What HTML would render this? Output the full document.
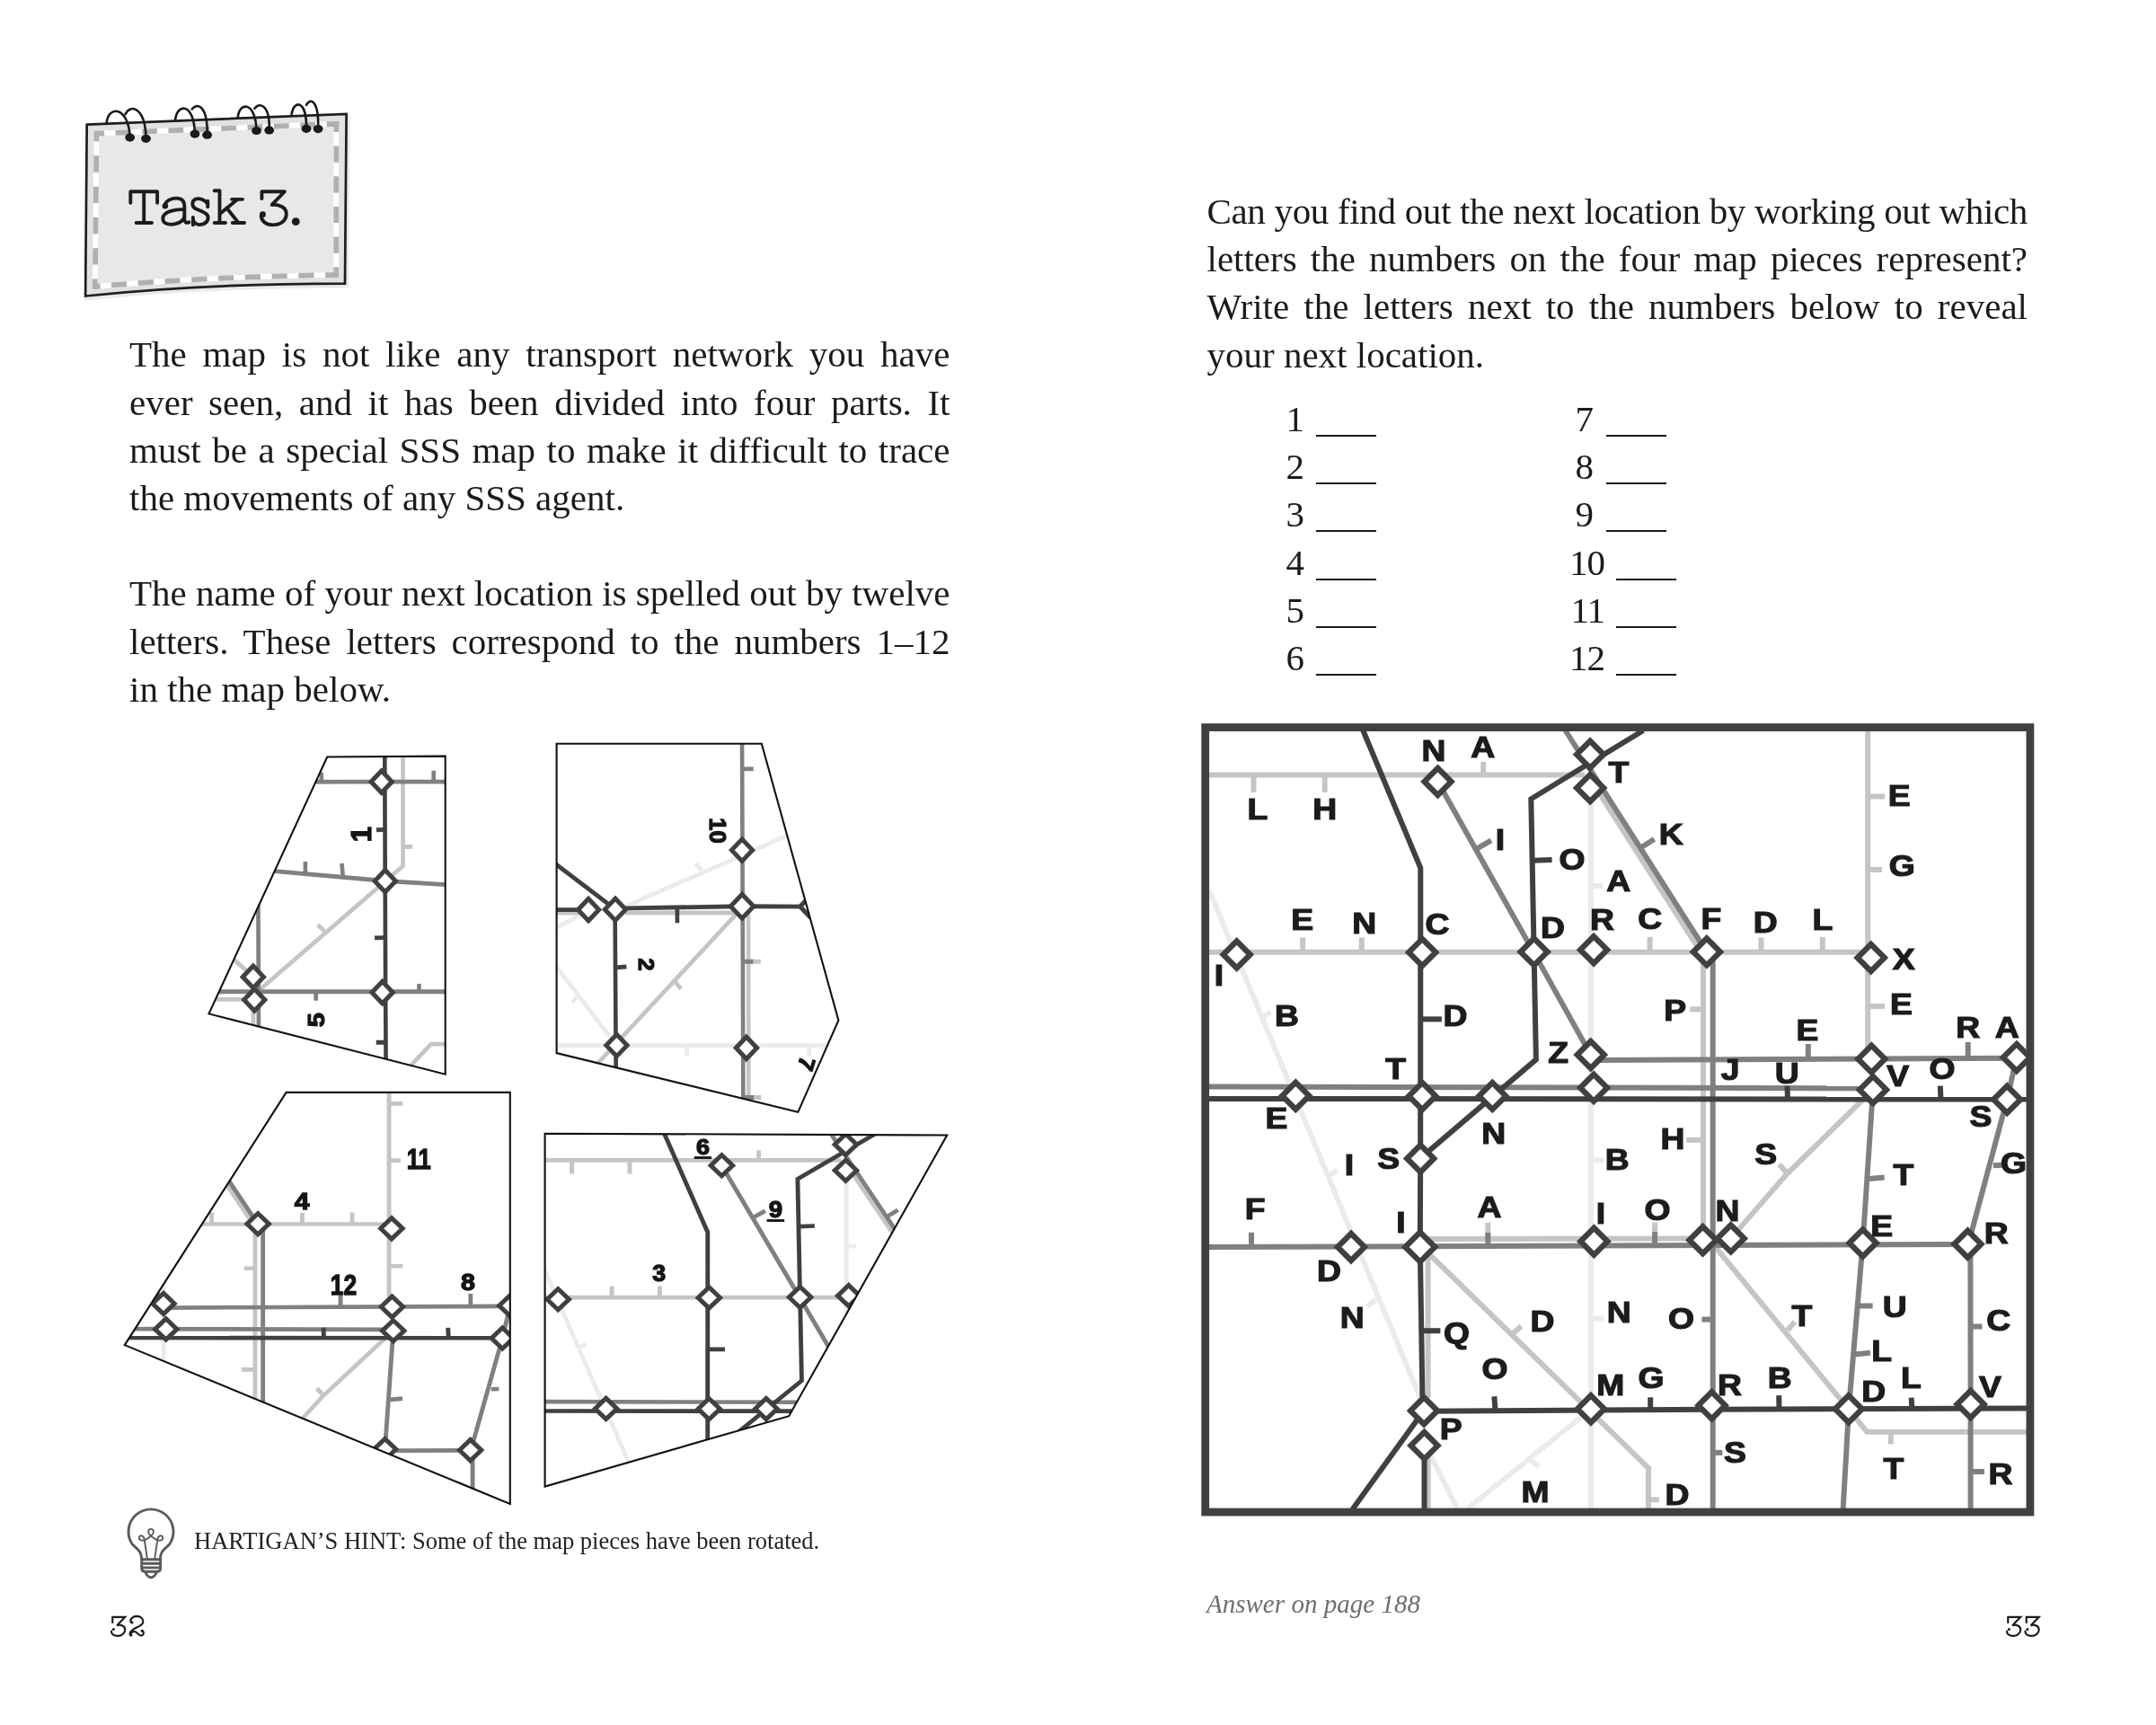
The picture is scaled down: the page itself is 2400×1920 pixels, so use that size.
<!DOCTYPE html>
<html><head><meta charset="utf-8"><title>Task 3</title>
<style>
html,body{margin:0;padding:0;background:#fff}
body{width:2400px;height:1920px;position:relative;overflow:hidden;filter:grayscale(1)}
svg{position:absolute;left:0;top:0;opacity:.999}
.t{position:absolute;opacity:.999;font-family:'Liberation Serif',serif;font-size:41px;line-height:1;color:#1b1b1b;white-space:nowrap}
.u{position:absolute;width:66.5px;height:2.1px;background:#1b1b1b}
</style></head><body>
<svg width="2400" height="1920" viewBox="0 0 2400 1920">
<defs>
<g id="mapl" fill="none" stroke-width="6.0" stroke-linecap="butt" stroke-linejoin="miter">
<g stroke="#ebebeb">
<polyline points="1346.2,991.5 1581.5,1557"/>
<polyline points="1590,1615 1622,1679"/>
<polyline points="1771,880 1771,1679"/>
<polyline points="1761.4,1576 1633.8,1679"/>
<line x1="1771" y1="985.8" x2="1784.5" y2="986.3"/>
<line x1="1771" y1="1291.6" x2="1785" y2="1291.6"/>
<line x1="1771" y1="1467.5" x2="1785" y2="1467.5"/>
<line x1="1704.2" y1="1625.5" x2="1712.6" y2="1632.2"/>
<line x1="1405" y1="1132.7" x2="1414.7" y2="1126.5"/>
<line x1="1479" y1="1309" x2="1488.9" y2="1302.2"/>
<line x1="1531.5" y1="1446.5" x2="1521.8" y2="1454.4"/>
</g>
<g stroke="#c5c5c5">
<polyline points="1346,862.4 1764,862.4"/>
<polyline points="1346,1059.7 2075,1059.7"/>
<polyline points="2079.2,813 2079.2,1178.7"/>
<polyline points="1779.7,882 1889.2,1053.2 1896,1062"/>
<polyline points="1896,1062 1896,1380"/>
<polyline points="1588,1378.9 1895.5,1378.5"/>
<polyline points="1589.6,1398 1589.6,1556"/>
<polyline points="1589.6,1620 1589.6,1679"/>
<polyline points="1586,1391 1835,1634 1835,1679"/>
<polyline points="1926.7,1378.4 1989.2,1306.6 2084.9,1213.1"/>
<polyline points="1905,1382.5 2078.4,1593.8 2256,1593.8"/>
<line x1="1395.5" y1="862.4" x2="1395.5" y2="882"/>
<line x1="1474.7" y1="862.4" x2="1474.7" y2="882"/>
<line x1="1651.2" y1="862.4" x2="1651.2" y2="848"/>
<line x1="1450.2" y1="1059.7" x2="1450.2" y2="1043.5"/>
<line x1="1515.8" y1="1059.7" x2="1515.8" y2="1043.5"/>
<line x1="1836.6" y1="1059.7" x2="1836.6" y2="1043"/>
<line x1="1960.5" y1="1059.7" x2="1960.5" y2="1043.5"/>
<line x1="2028.8" y1="1059.7" x2="2028.8" y2="1043"/>
<line x1="2079.2" y1="886.5" x2="2098" y2="886.5"/>
<line x1="2079.2" y1="968.1" x2="2095" y2="968.1"/>
<line x1="2079.2" y1="1120.1" x2="2098" y2="1120.1"/>
<line x1="1896" y1="1123.3" x2="1881.3" y2="1123.3"/>
<line x1="1896" y1="1268.9" x2="1877.3" y2="1268.9"/>
<line x1="1656.3" y1="1378.7" x2="1656.3" y2="1361"/>
<line x1="1842.1" y1="1378.7" x2="1842.1" y2="1360.6"/>
<line x1="1835" y1="1669.2" x2="1846.9" y2="1669.2"/>
<line x1="1683.8" y1="1484.5" x2="1693.5" y2="1475.9"/>
<line x1="1989.4" y1="1305.7" x2="1980.4" y2="1296"/>
<line x1="1989.8" y1="1480.7" x2="1998" y2="1471.1"/>
<line x1="2104.8" y1="1593.8" x2="2104.8" y2="1607.4"/>
</g>
<g stroke="#808080">
<polyline points="1600.5,870 1707.2,1059.9 1770.7,1174"/>
<polyline points="1742.5,813 1900,1059.9"/>
<polyline points="1906.7,1062 1906.7,1679"/>
<polyline points="1772,1180 2244.8,1177.8"/>
<polyline points="1346,1209.6 2084.9,1211.3"/>
<polyline points="1346,1388 1907,1386.1 2190.4,1385"/>
<polyline points="2084.9,1213.1 2073.6,1383.5 2058,1568 2051.7,1679"/>
<polyline points="2244.8,1177.1 2234.2,1223.8 2194.5,1372 2193.4,1395 2193.6,1563 2193.6,1679"/>
<line x1="1644" y1="944.7" x2="1660" y2="935.3"/>
<line x1="1827.7" y1="942.8" x2="1841.5" y2="933.9"/>
<line x1="1906.7" y1="1468.6" x2="1894.4" y2="1468.6"/>
<line x1="1906.7" y1="1616.9" x2="1917.4" y2="1616.9"/>
<line x1="2012.8" y1="1179" x2="2012.8" y2="1162"/>
<line x1="2190.7" y1="1178" x2="2190.7" y2="1160"/>
<line x1="1393" y1="1388" x2="1393" y2="1371.7"/>
<line x1="1656.3" y1="1387" x2="1656.3" y2="1372"/>
<line x1="1842.1" y1="1386.5" x2="1842.1" y2="1371"/>
<line x1="2080.9" y1="1312.1" x2="2097.6" y2="1310.5"/>
<line x1="2068.8" y1="1453.4" x2="2084.6" y2="1453.4"/>
<line x1="2064.7" y1="1507.4" x2="2081.9" y2="1505.8"/>
<line x1="2218.8" y1="1297.2" x2="2229.4" y2="1296.8"/>
<line x1="2192.2" y1="1476.6" x2="2206.4" y2="1476.6"/>
<line x1="2193.6" y1="1637.9" x2="2209" y2="1637.9"/>
</g>
<g stroke="#404040">
<polyline points="1517.3,813 1581.3,966 1581.2,1289 1580.8,1388 1583.4,1553 1585.1,1570.3"/>
<polyline points="1829.3,813 1704.3,889.3 1707.6,1059.4 1709.9,1179.3 1581.2,1289.1"/>
<polyline points="1346,1223 2256,1223.5"/>
<polyline points="1585,1570.7 1905.5,1568.7 2256,1567.5"/>
<polyline points="1585,1570 1505.5,1680"/>
<polyline points="1585.5,1608.9 1585.5,1680"/>
<line x1="1581.2" y1="1134.4" x2="1604.9" y2="1134.4"/>
<line x1="1584" y1="1481.2" x2="1603.4" y2="1481.2"/>
<line x1="1706.8" y1="957.7" x2="1727.6" y2="956.9"/>
<line x1="1989.9" y1="1223" x2="1989.5" y2="1208.7"/>
<line x1="2160.5" y1="1223.4" x2="2159.8" y2="1208.7"/>
<line x1="1664.5" y1="1570" x2="1663.4" y2="1554.2"/>
<line x1="1837.2" y1="1569" x2="1837.2" y2="1555.3"/>
<line x1="1980.5" y1="1568.4" x2="1980.2" y2="1553.1"/>
<line x1="2128.3" y1="1568" x2="2127.7" y2="1555.6"/>
</g>
<g stroke="#404040" fill="#fff" stroke-linejoin="miter" stroke-width="6.3">
<path d="M1600.5,855 l15,15 l-15,15 l-15,-15 z"/>
<path d="M1770.1,824.8 l15,15 l-15,15 l-15,-15 z"/>
<path d="M1770.1,862.1 l15,15 l-15,15 l-15,-15 z"/>
<path d="M1376.7,1047.5 l15,15 l-15,15 l-15,-15 z"/>
<path d="M1583.2,1045.1 l15,15 l-15,15 l-15,-15 z"/>
<path d="M1707.6,1044.4 l15,15 l-15,15 l-15,-15 z"/>
<path d="M1774.1,1042.2 l15,15 l-15,15 l-15,-15 z"/>
<path d="M1899.9,1044.4 l15,15 l-15,15 l-15,-15 z"/>
<path d="M2082.7,1051 l15,15 l-15,15 l-15,-15 z"/>
<path d="M1770.7,1159 l15,15 l-15,15 l-15,-15 z"/>
<path d="M2083.3,1163.7 l15,15 l-15,15 l-15,-15 z"/>
<path d="M2244.8,1162.1 l15,15 l-15,15 l-15,-15 z"/>
<path d="M1442.3,1204.7 l15,15 l-15,15 l-15,-15 z"/>
<path d="M1583.2,1205.1 l15,15 l-15,15 l-15,-15 z"/>
<path d="M1661.3,1204.9 l15,15 l-15,15 l-15,-15 z"/>
<path d="M1774.1,1195.8 l15,15 l-15,15 l-15,-15 z"/>
<path d="M2084.9,1198.1 l15,15 l-15,15 l-15,-15 z"/>
<path d="M2234.2,1208.8 l15,15 l-15,15 l-15,-15 z"/>
<path d="M1581.2,1274.5 l15,15 l-15,15 l-15,-15 z"/>
<path d="M1504,1373 l15,15 l-15,15 l-15,-15 z"/>
<path d="M1580.8,1371.4 l16.5,16.5 l-16.5,16.5 l-16.5,-16.5 z"/>
<path d="M1774.4,1366.7 l15,15 l-15,15 l-15,-15 z"/>
<path d="M1895.5,1365.2 l15,15 l-15,15 l-15,-15 z"/>
<path d="M1926.7,1363.4 l15,15 l-15,15 l-15,-15 z"/>
<path d="M2073.6,1368.5 l15,15 l-15,15 l-15,-15 z"/>
<path d="M2190.4,1369.8 l15,15 l-15,15 l-15,-15 z"/>
<path d="M1585.1,1555.3 l15,15 l-15,15 l-15,-15 z"/>
<path d="M1585.5,1593.9 l15,15 l-15,15 l-15,-15 z"/>
<path d="M1770.9,1553.3 l15,15 l-15,15 l-15,-15 z"/>
<path d="M1905.5,1549.2 l15,15 l-15,15 l-15,-15 z"/>
<path d="M2057.8,1553.2 l15,15 l-15,15 l-15,-15 z"/>
<path d="M2193.6,1548 l15,15 l-15,15 l-15,-15 z"/>
</g>
</g>
</defs>
<!-- notepad -->
<path d="M96.7,138.7 L385.6,126.8 L384,315.6 Q225,315.6 95.1,329.5 Z" fill="#e0e0e0" stroke="#dcdcdc" stroke-width="5" transform="translate(1.6,2.4)" opacity=".6"/>
<path d="M96.7,138.7 L385.6,126.8 L384,315.6 Q225,315.6 95.1,329.5 Z" fill="#e2e2e2" stroke="#1e1e1e" stroke-width="2.7" stroke-linejoin="miter"/>
<path d="M107.5,148.7 L374.4,137.8 L374.2,306.1 Q232,307.8 105.8,319 Z" fill="#e8e8e8" stroke="#fff" stroke-width="5.8" stroke-linejoin="miter"/>
<g fill="none" stroke="#b0b0b0" stroke-width="5.8">
<path d="M107.5,148.7 L374.4,137.8" stroke-dasharray="16.8 12.6" stroke-dashoffset="8.2"/>
<path d="M107.5,148.7 L105.8,319" stroke-dasharray="18.4 15.9" stroke-dashoffset="9.7"/>
<path d="M374.4,137.8 L374.2,306.1" stroke-dasharray="18.2 15.5" stroke-dashoffset="9"/>
<path d="M105.8,319 Q232,307.8 374.2,306.1" stroke-dasharray="17.1 12.7" stroke-dashoffset="11.3"/>
</g>
<g fill="#b0b0b0">
<rect x="104.6" y="145.8" width="5.8" height="5.8"/>
<rect x="371.5" y="134.9" width="5.8" height="5.8"/>
<rect x="371.3" y="303.2" width="5.8" height="5.8"/>
<rect x="102.9" y="316.1" width="5.8" height="5.8"/>
</g>
<g fill="none" stroke="#1a1a1a" stroke-width="2.6" stroke-linecap="round">
<path d="M118.6,137.3 C120.2,116.8 143.1,117.6 144.7,153.1"/>
<path d="M139.6,127.1 C144.7,115.2 162,119.2 162.5,154.3"/>
<path d="M195.1,133.4 C197.5,113.7 216.4,115.2 216.9,149.1"/>
<path d="M213.7,121.5 C219.6,113.7 231.4,117.6 230.6,150.2"/>
<path d="M264.8,130.2 C266.9,112.1 285,113.7 285.5,145.5"/>
<path d="M283.4,120.8 C289,112.9 300.8,116.8 299.7,144.9"/>
<path d="M324.4,128.6 C326.8,109.7 341.8,111.3 341,143.3"/>
<path d="M341,116.8 C346.5,107.3 355.2,113.7 354.1,143.6"/>
</g><g fill="#1a1a1a">
<ellipse cx="144.7" cy="153.1" rx="5.4" ry="4.6"/>
<ellipse cx="162.5" cy="154.3" rx="5.4" ry="4.6"/>
<ellipse cx="216.9" cy="149.1" rx="5.4" ry="4.6"/>
<ellipse cx="230.6" cy="150.2" rx="5.4" ry="4.6"/>
<ellipse cx="285.5" cy="145.5" rx="5.4" ry="4.6"/>
<ellipse cx="299.7" cy="144.9" rx="5.4" ry="4.6"/>
<ellipse cx="341" cy="143.3" rx="5.4" ry="4.6"/>
<ellipse cx="354.1" cy="143.6" rx="5.4" ry="4.6"/>
</g>
<g transform="translate(130,190) scale(0.102041)" fill="none" stroke="#1c1c1c" stroke-width="38" stroke-linecap="round" stroke-linejoin="round">
<path d="M150,350 V228 H442 V350"/>
<path d="M296,228 V568"/>
<path d="M212,568 H382"/>
<path d="M522,378 C540,320 600,300 650,300 C710,300 738,335 738,390 V525 C738,562 758,574 788,562"/>
<path d="M738,425 C690,420 640,425 590,440 C520,460 495,500 505,540 C515,580 580,595 640,580 C700,565 735,530 738,500"/>
<path d="M992,395 V330"/>
<path d="M992,360 C960,315 900,295 860,310 C815,328 815,390 860,415 C900,435 950,445 985,480 C1010,515 990,570 935,585 C885,598 848,575 832,540"/>
<path d="M832,590 V508"/>
<path d="M1065,218 H1122 V568"/>
<path d="M1065,568 H1185"/>
<path d="M1125,470 L1318,312"/>
<path d="M1255,312 H1372"/>
<path d="M1200,408 L1328,568"/>
<path d="M1262,568 H1392"/>
<path d="M1582,305 V228 H1832 L1692,372 C1770,365 1850,400 1850,470 C1850,550 1780,592 1700,592 C1630,592 1575,550 1575,490"/>
</g>
<g transform="translate(130,190) scale(0.102041)" fill="#1c1c1c"><circle cx="1953" cy="555" r="43"/><circle cx="1592" cy="478" r="34"/><circle cx="528" cy="385" r="32"/></g>
<g transform="translate(110,1790) scale(0.03247)" fill="none" stroke="#1a1a1a" stroke-width="66" stroke-linecap="round" stroke-linejoin="miter">
<path transform="translate(0,0)" d="M470,490 V302 H900 L622,592 C760,540 905,620 900,745 C895,870 770,950 645,950 C520,950 415,880 432,790"/>
<path transform="translate(0,0)" d="M1092,470 C1060,360 1180,272 1300,272 C1440,272 1522,360 1520,460 C1518,600 1300,640 1160,740 C1060,810 1040,880 1085,935 M1085,900 C1120,800 1230,775 1290,830 C1350,880 1400,950 1462,940 C1545,920 1560,830 1500,775"/>
</g><g transform="translate(110,1790) scale(0.03247)" fill="#1a1a1a">
<circle cx="505" cy="725" r="48"/>
<circle cx="1135" cy="490" r="50"/>
<circle cx="1110" cy="925" r="42"/>
<circle cx="1480" cy="775" r="45"/>
</g>
<g transform="translate(2220,1790) scale(0.03247)" fill="none" stroke="#1a1a1a" stroke-width="66" stroke-linecap="round" stroke-linejoin="miter">
<path transform="translate(0,0)" d="M470,490 V302 H900 L622,592 C760,540 905,620 900,745 C895,870 770,950 645,950 C520,950 415,880 432,790"/>
<path transform="translate(630,0)" d="M470,490 V302 H900 L622,592 C760,540 905,620 900,745 C895,870 770,950 645,950 C520,950 415,880 432,790"/>
</g><g transform="translate(2220,1790) scale(0.03247)" fill="#1a1a1a">
<circle cx="505" cy="725" r="48"/>
<circle cx="1135" cy="725" r="48"/>
</g>
<!-- pieces -->
<clipPath id="cp1"><polygon points="364.2,842.5 495.7,841.6 495.7,1195.7 232.5,1128.4"/></clipPath>
<g clip-path="url(#cp1)"><use href="#mapl" transform="matrix(0,-0.814,0.774,0,-785.04,2655.76)"/></g>
<polygon points="364.2,842.5 495.7,841.6 495.7,1195.7 232.5,1128.4" fill="none" stroke="#111" stroke-width="2.1" stroke-linejoin="miter"/>
<clipPath id="cp2"><polygon points="619.6,827.7 847.8,827.7 933.4,1135.6 888.3,1237.8 619.6,1172.1"/></clipPath>
<g clip-path="url(#cp2)"><use href="#mapl" transform="matrix(0,0.814,-0.774,0,1900.34,-277.99)"/></g>
<polygon points="619.6,827.7 847.8,827.7 933.4,1135.6 888.3,1237.8 619.6,1172.1" fill="none" stroke="#111" stroke-width="2.1" stroke-linejoin="miter"/>
<clipPath id="cp3"><polygon points="318.6,1215.9 567.8,1215.9 567.8,1673.9 138.8,1497.1"/></clipPath>
<g clip-path="url(#cp3)"><use href="#mapl" transform="matrix(0.814,0,0,0.774,-1259.37,542.27)"/></g>
<polygon points="318.6,1215.9 567.8,1215.9 567.8,1673.9 138.8,1497.1" fill="none" stroke="#111" stroke-width="2.1" stroke-linejoin="miter"/>
<clipPath id="cp4"><polygon points="606.6,1261.7 1054.2,1263.5 878.2,1576.2 606.6,1654.5"/></clipPath>
<g clip-path="url(#cp4)"><use href="#mapl" transform="matrix(0.814,0,0,0.774,-499.41,623.88)"/></g>
<polygon points="606.6,1261.7 1054.2,1263.5 878.2,1576.2 606.6,1654.5" fill="none" stroke="#111" stroke-width="2.1" stroke-linejoin="miter"/>
<g font-family="Liberation Sans, sans-serif" font-weight="bold" fill="#151515" stroke="#151515" stroke-width="1.3" text-anchor="middle">
<text font-size="31" transform="translate(402,928.7) rotate(-90) scale(1.0,1)" y="11.1">1</text>
<text font-size="25" transform="translate(351.6,1135.2) rotate(-90) scale(1.15,1)" y="8.9">5</text>
<text font-size="25.5" transform="translate(799.6,924.4) rotate(90) scale(1.0,1)" y="9.1">10</text>
<text font-size="24" transform="translate(719.7,1073.5) rotate(90) scale(1.05,1)" y="8.6">2</text>
<text font-size="25" transform="translate(898,1184) rotate(107) scale(1.05,1)" y="8.9">7</text>
<text font-size="32" transform="translate(466.3,1289.3) rotate(0) scale(0.8,1)" y="11.5">11</text>
<text font-size="26" transform="translate(336,1336.6) rotate(0) scale(1.15,1)" y="9.3">4</text>
<text font-size="31" transform="translate(382.5,1430.2) rotate(0) scale(0.85,1)" y="11.1">12</text>
<text font-size="26" transform="translate(520.9,1427) rotate(0) scale(1.1,1)" y="9.3">8</text>
<text font-size="24.5" transform="translate(782.4,1276.2) rotate(0) scale(1.1,1)" y="8.8">6</text>
<rect x="773.4" y="1287.8" width="18" height="1.5"/>
<text font-size="25" transform="translate(863.3,1346) rotate(0) scale(1.1,1)" y="8.9">9</text>
<rect x="854.2" y="1357.8" width="18.3" height="1.5"/>
<text font-size="25.5" transform="translate(733.7,1417.2) rotate(0) scale(1.05,1)" y="9.1">3</text>
</g>
<!-- bulb -->
<g fill="none" stroke="#5a5a5a" stroke-width="2.9" stroke-linecap="round" stroke-linejoin="round">
<path d="M157.7,1735.1 C157.7,1726.4 152.5,1724.1 147.2,1718.7 A25 25 0 1 1 188.8,1718.7 C183.5,1724.1 178.3,1726.4 178.3,1735.1"/>
<path d="M157.7,1735.7 L157.7,1745.5 Q157.7,1749.3 161.7,1749.3 L174.5,1749.3 Q178.6,1749.3 178.6,1745.5 L178.6,1735.7 Z"/>
<path d="M158.3,1740.3 L178,1740.3 M158.3,1744.9 L178,1744.9"/>
<path d="M162,1749.9 Q164.1,1755.4 168.1,1755.7 Q172.2,1755.4 174.2,1749.9"/>
</g><g fill="none" stroke="#5a5a5a" stroke-width="1.9" stroke-linecap="round">
<path d="M163.9,1734.8 L160.6,1712.8 C160,1709 155.4,1707.8 154.8,1711.6 C154.5,1715.4 160.6,1715.9 165.8,1711.3 C172.2,1707.2 172.2,1701.9 168,1701.9 C163.8,1701.9 163.8,1707.2 170.2,1711.3 C175.4,1715.9 181.5,1715.4 181.2,1711.6 C180.6,1707.8 176,1709 175.4,1712.8 L172.2,1734.8"/>
</g>
<!-- big map -->
<clipPath id="cmap"><rect x="1341.7" y="809.6" width="918.2" height="873.4"/></clipPath>
<g clip-path="url(#cmap)"><use href="#mapl"/></g>
<g font-family="Liberation Sans, sans-serif" font-weight="bold" font-size="33" fill="#1c1c1c" stroke="#1c1c1c" stroke-width="1.2" text-anchor="middle">
<text transform="translate(1596,846.9) scale(1.13,1)">N</text>
<text transform="translate(1650.7,842.9) scale(1.13,1)">A</text>
<text transform="translate(1802,870.8) scale(1.13,1)">T</text>
<text transform="translate(1400,912.3) scale(1.13,1)">L</text>
<text transform="translate(1474.7,912.3) scale(1.13,1)">H</text>
<text transform="translate(1670,945.6) scale(1.13,1)">I</text>
<text transform="translate(1860.2,939.8) scale(1.13,1)">K</text>
<text transform="translate(1750.1,968.2) scale(1.13,1)">O</text>
<text transform="translate(1801.7,991.8) scale(1.13,1)">A</text>
<text transform="translate(2114.1,897.1) scale(1.13,1)">E</text>
<text transform="translate(2117.3,974.9) scale(1.13,1)">G</text>
<text transform="translate(1449.8,1034.7) scale(1.13,1)">E</text>
<text transform="translate(1518.6,1038.6) scale(1.13,1)">N</text>
<text transform="translate(1600,1040.3) scale(1.13,1)">C</text>
<text transform="translate(1728.4,1043.7) scale(1.13,1)">D</text>
<text transform="translate(1783.5,1034.8) scale(1.13,1)">R</text>
<text transform="translate(1836.6,1034) scale(1.13,1)">C</text>
<text transform="translate(1904.8,1034) scale(1.13,1)">F</text>
<text transform="translate(1965.3,1038.4) scale(1.13,1)">D</text>
<text transform="translate(2028.8,1034.9) scale(1.13,1)">L</text>
<text transform="translate(2119.2,1078.9) scale(1.13,1)">X</text>
<text transform="translate(1357,1097.1) scale(1.13,1)">I</text>
<text transform="translate(1432.5,1141.5) scale(1.13,1)">B</text>
<text transform="translate(1620,1141.6) scale(1.13,1)">D</text>
<text transform="translate(1864.8,1136.3) scale(1.13,1)">P</text>
<text transform="translate(2116.5,1129.1) scale(1.13,1)">E</text>
<text transform="translate(2012,1157.6) scale(1.13,1)">E</text>
<text transform="translate(2190.7,1155.4) scale(1.13,1)">R</text>
<text transform="translate(2234.2,1155.4) scale(1.13,1)">A</text>
<text transform="translate(1734.7,1182.9) scale(1.13,1)">Z</text>
<text transform="translate(1553.6,1201.2) scale(1.13,1)">T</text>
<text transform="translate(1926.1,1201.6) scale(1.13,1)">J</text>
<text transform="translate(1989.3,1205.6) scale(1.13,1)">U</text>
<text transform="translate(2112.8,1209) scale(1.13,1)">V</text>
<text transform="translate(2162,1200.8) scale(1.13,1)">O</text>
<text transform="translate(1421,1256.3) scale(1.13,1)">E</text>
<text transform="translate(1662.8,1272.9) scale(1.13,1)">N</text>
<text transform="translate(2205,1253.6) scale(1.13,1)">S</text>
<text transform="translate(1862,1278.7) scale(1.13,1)">H</text>
<text transform="translate(1800.1,1301.7) scale(1.13,1)">B</text>
<text transform="translate(1965.6,1295.8) scale(1.13,1)">S</text>
<text transform="translate(1545.8,1301.1) scale(1.13,1)">S</text>
<text transform="translate(1502,1308.4) scale(1.13,1)">I</text>
<text transform="translate(2241.5,1306.3) scale(1.13,1)">G</text>
<text transform="translate(2119,1319.3) scale(1.13,1)">T</text>
<text transform="translate(1397.1,1357.4) scale(1.13,1)">F</text>
<text transform="translate(1658,1354.5) scale(1.13,1)">A</text>
<text transform="translate(1782,1361.8) scale(1.13,1)">I</text>
<text transform="translate(1845.1,1358.1) scale(1.13,1)">O</text>
<text transform="translate(1922.9,1358.9) scale(1.13,1)">N</text>
<text transform="translate(1559.4,1371.6) scale(1.13,1)">I</text>
<text transform="translate(2094.7,1376.1) scale(1.13,1)">E</text>
<text transform="translate(2222.1,1384.2) scale(1.13,1)">R</text>
<text transform="translate(1479.4,1425.5) scale(1.13,1)">D</text>
<text transform="translate(1505.3,1477.8) scale(1.13,1)">N</text>
<text transform="translate(1621.6,1495) scale(1.13,1)">Q</text>
<text transform="translate(1717,1482.1) scale(1.13,1)">D</text>
<text transform="translate(1802.3,1472.4) scale(1.13,1)">N</text>
<text transform="translate(1871.4,1479.1) scale(1.13,1)">O</text>
<text transform="translate(2006,1476.1) scale(1.13,1)">T</text>
<text transform="translate(2109.2,1465.6) scale(1.13,1)">U</text>
<text transform="translate(2224.7,1480.8) scale(1.13,1)">C</text>
<text transform="translate(2094.7,1514.9) scale(1.13,1)">L</text>
<text transform="translate(2127.4,1544.6) scale(1.13,1)">L</text>
<text transform="translate(1664.1,1534.7) scale(1.13,1)">O</text>
<text transform="translate(1792.7,1552.8) scale(1.13,1)">M</text>
<text transform="translate(1838,1544.7) scale(1.13,1)">G</text>
<text transform="translate(1925.5,1552.8) scale(1.13,1)">R</text>
<text transform="translate(1981.2,1545.4) scale(1.13,1)">B</text>
<text transform="translate(2085.7,1560.4) scale(1.13,1)">D</text>
<text transform="translate(2215.4,1555) scale(1.13,1)">V</text>
<text transform="translate(1615.2,1602.2) scale(1.13,1)">P</text>
<text transform="translate(1931.5,1627.8) scale(1.13,1)">S</text>
<text transform="translate(2107.8,1645.7) scale(1.13,1)">T</text>
<text transform="translate(2226.9,1651.7) scale(1.13,1)">R</text>
<text transform="translate(1709.1,1672) scale(1.13,1)">M</text>
<text transform="translate(1866.9,1674.6) scale(1.13,1)">D</text>
</g>
<rect x="1341.7" y="809.6" width="918.2" height="873.4" fill="none" stroke="#404040" stroke-width="8.8"/>
</svg>
<div class="t" style="left:144px;top:374.4px;width:913.5px;text-align:justify;text-align-last:justify;">The map is not like any transport network you have</div>
<div class="t" style="left:144px;top:427.7px;width:913.5px;text-align:justify;text-align-last:justify;">ever seen, and it has been divided into four parts. It</div>
<div class="t" style="left:144px;top:480.7px;width:913.5px;text-align:justify;text-align-last:justify;">must be a special SSS map to make it difficult to trace</div>
<div class="t" style="left:144px;top:534px;width:913.5px;">the movements of any SSS agent.</div>
<div class="t" style="left:144px;top:640.4px;width:913.5px;text-align:justify;text-align-last:justify;">The name of your next location is spelled out by twelve</div>
<div class="t" style="left:144px;top:693.6px;width:913.5px;text-align:justify;text-align-last:justify;">letters. These letters correspond to the numbers 1–12</div>
<div class="t" style="left:144px;top:746.8px;width:913.5px;">in the map below.</div>
<div class="t" style="left:1343.5px;top:214.6px;width:913.5px;text-align:justify;text-align-last:justify;letter-spacing:-0.36px;">Can you find out the next location by working out which</div>
<div class="t" style="left:1343.5px;top:268px;width:913.5px;text-align:justify;text-align-last:justify;">letters the numbers on the four map pieces represent?</div>
<div class="t" style="left:1343.5px;top:321.3px;width:913.5px;text-align:justify;text-align-last:justify;">Write the letters next to the numbers below to reveal</div>
<div class="t" style="left:1343.5px;top:374.6px;width:913.5px;">your next location.</div>
<div class="t" style="left:1402px;width:50px;text-align:right;top:445.6px">1</div>
<div class="u" style="left:1465.4px;top:483.5px"></div>
<div class="t" style="left:1724px;width:50px;text-align:right;top:445.6px">7</div>
<div class="u" style="left:1788.4px;top:483.5px"></div>
<div class="t" style="left:1402px;width:50px;text-align:right;top:498.9px">2</div>
<div class="u" style="left:1465.4px;top:536.8px"></div>
<div class="t" style="left:1724px;width:50px;text-align:right;top:498.9px">8</div>
<div class="u" style="left:1788.4px;top:536.8px"></div>
<div class="t" style="left:1402px;width:50px;text-align:right;top:552.2px">3</div>
<div class="u" style="left:1465.4px;top:590.1px"></div>
<div class="t" style="left:1724px;width:50px;text-align:right;top:552.2px">9</div>
<div class="u" style="left:1788.4px;top:590.1px"></div>
<div class="t" style="left:1402px;width:50px;text-align:right;top:605.6px">4</div>
<div class="u" style="left:1465.4px;top:643.5px"></div>
<div class="t" style="left:1736px;width:50px;text-align:right;top:605.6px;letter-spacing:-1px">10</div>
<div class="u" style="left:1799.4px;top:643.5px"></div>
<div class="t" style="left:1402px;width:50px;text-align:right;top:658.9px">5</div>
<div class="u" style="left:1465.4px;top:696.8px"></div>
<div class="t" style="left:1736px;width:50px;text-align:right;top:658.9px;letter-spacing:-1px">11</div>
<div class="u" style="left:1799.4px;top:696.8px"></div>
<div class="t" style="left:1402px;width:50px;text-align:right;top:712.3px">6</div>
<div class="u" style="left:1465.4px;top:750.2px"></div>
<div class="t" style="left:1736px;width:50px;text-align:right;top:712.3px;letter-spacing:-1px">12</div>
<div class="u" style="left:1799.4px;top:750.2px"></div>
<div class="t" style="left:216px;top:1701.6px;font-size:26.5px;width:696px;text-align:justify;text-align-last:justify;color:#222">HARTIGAN’S HINT: Some of the map pieces have been rotated.</div>
<div class="t" style="left:1343px;top:1770.7px;font-size:29px;font-style:italic;color:#6e6e6e;width:238px;text-align:justify;text-align-last:justify">Answer on page 188</div>
</body></html>
